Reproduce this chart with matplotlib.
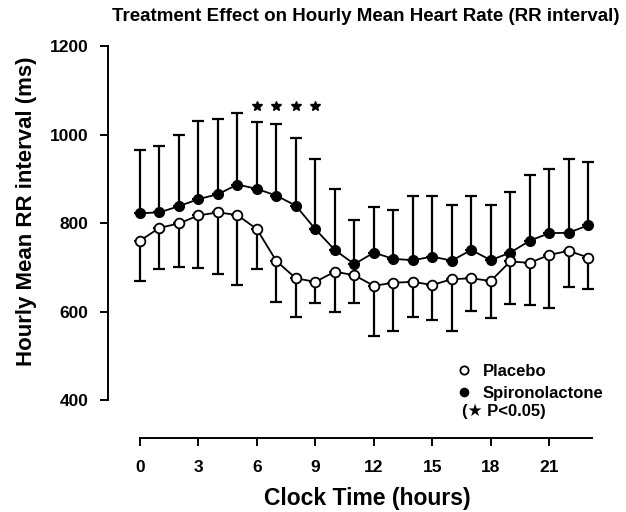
import numpy as np
import matplotlib
matplotlib.use('Agg')
import matplotlib.pyplot as plt

plt.rcParams['font.family'] = ['Liberation Sans', 'DejaVu Sans']
plt.rcParams['font.weight'] = 'bold'
plt.rcParams['axes.labelweight'] = 'bold'

hours = np.arange(24)

# hourly mean RR interval (ms)
placebo = [760, 789, 799, 817, 824, 818, 786, 714, 675, 667, 690, 682,
           658, 665, 667, 660, 673, 675, 669, 713, 710, 728, 737, 722]
placebo_low = [669, 696, 701, 699, 685, 660, 695, 622, 587, 619, 600, 619,
               545, 557, 588, 581, 557, 601, 585, 618, 615, 607, 655, 650]

spiro = [822, 824, 838, 854, 865, 887, 877, 862, 839, 786, 739, 707,
         733, 719, 716, 724, 715, 739, 716, 733, 760, 777, 778, 795]
spiro_high = [966, 975, 1000, 1031, 1034, 1048, 1028, 1023, 991, 944, 876, 806,
              837, 829, 861, 860, 840, 861, 840, 870, 908, 923, 945, 938]

signif_hours = [6, 7, 8, 9]
star_level = 1064

placebo = np.array(placebo)
spiro = np.array(spiro)
p_err = [placebo - np.array(placebo_low), np.zeros(24)]
s_err = [np.zeros(24), np.array(spiro_high) - spiro]

fig = plt.figure(figsize=(6.26, 5.12), dpi=100)
ax = fig.add_axes([0.1725, 0.21875, 0.7827, 0.6914])

ax.errorbar(hours, spiro, yerr=s_err, fmt='none', ecolor='black', elinewidth=1.6,
            capsize=4, capthick=1.6, zorder=1)
ax.errorbar(hours, placebo, yerr=p_err, fmt='none', ecolor='black', elinewidth=1.6,
            capsize=4, capthick=1.6, zorder=1)
ax.plot(hours, spiro, '-o', color='black', lw=1.3, ms=7, mfc='black', mec='black',
        zorder=3, label='Spironolactone')
ax.plot(hours, placebo, '-o', color='black', lw=1.3, ms=7, mfc='white', mec='black',
        mew=1.3, zorder=3, label='Placebo')
ax.plot(signif_hours, [star_level] * len(signif_hours), '*', color='black', ms=7,
        ls='none')

ax.set_xlim(-1.64, 23.5)
ax.set_ylim(400, 1200)
ax.set_xticks(range(0, 22, 3))
ax.set_yticks(range(400, 1201, 200))

for s in ['top', 'right']:
    ax.spines[s].set_visible(False)
ax.spines['left'].set_linewidth(1.4)
ax.spines['bottom'].set_linewidth(1.4)
ax.spines['bottom'].set_position(('outward', 27))
ax.spines['bottom'].set_bounds(0, 23.2)
ax.tick_params(axis='y', direction='out', length=6, width=1.4, labelsize=12.5, pad=8)
ax.tick_params(axis='x', direction='out', length=6, width=1.4, labelsize=12.5, pad=10)

ax.set_ylabel('Hourly Mean RR interval (ms)', fontsize=16)
ax.yaxis.set_label_coords(-0.145, 0.534)
ax.set_xlabel('Clock Time (hours)', fontsize=16.5)
ax.xaxis.set_label_coords(0.529, -0.246)
fig.text(0.585, 0.968, 'Treatment Effect on Hourly Mean Heart Rate (RR interval)',
         ha='center', va='center', fontsize=13.5)

h, l = ax.get_legend_handles_labels()
leg = ax.legend(h[::-1], l[::-1], loc='upper left', bbox_to_anchor=(0.70, 0.12),
                frameon=False, fontsize=12, handlelength=0.8, handletextpad=0.7,
                labelspacing=0.4, borderaxespad=0, markerscale=0.85)
for ln in leg.get_lines():
    ln.set_linestyle('none')
ax.text(0.722, -0.031, '(\u2605 P<0.05)', transform=ax.transAxes, fontsize=12,
        va='center', ha='left')

fig.savefig('out.png', dpi=100)
